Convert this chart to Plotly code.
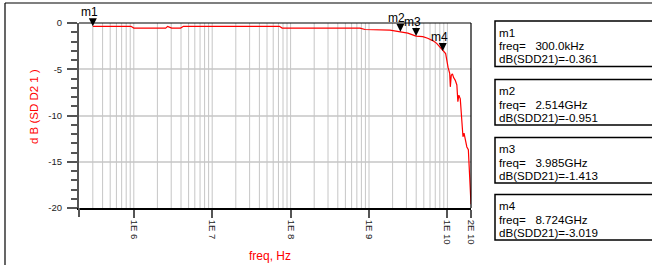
import numpy as np
import plotly.graph_objects as go

# ---------------- data ----------------
freq_hz = [3.0e5, 9.2e5, 1.0e6, 2.55e6, 2.7e6, 3.04e6, 3.95e6, 4.3e6, 7.2e7, 7.8e7,
           7.7e8, 8.9e8, 1.85e9, 2.514e9, 3.13e9, 3.985e9, 4.86e9, 5.6e9, 6.5e9, 7.3e9,
           8.4e9, 8.724e9, 9.5e9, 1.02e10, 1.07e10, 1.09e10, 1.12e10, 1.16e10, 1.20e10, 1.26e10,
           1.32e10, 1.36e10, 1.40e10, 1.46e10, 1.51e10, 1.58e10, 1.63e10, 1.67e10, 1.77e10, 1.85e10,
           1.92e10, 2.0e10]
sdd21_db = [-0.361, -0.36, -0.55, -0.55, -0.36, -0.55, -0.55, -0.36, -0.36, -0.55,
            -0.55, -0.70, -0.78, -0.951, -1.10, -1.413, -1.48, -1.65, -1.90, -2.20,
            -2.80, -3.019, -3.30, -4.80, -5.45, -6.90, -5.65, -5.50, -5.90, -6.20,
            -6.70, -8.50, -7.80, -8.20, -10.5, -12.3, -11.9, -12.5, -13.4, -13.7,
            -16.2, -19.6]

marker_names = ["m1", "m2", "m3", "m4"]
marker_freq = [300.0e3, 2.514e9, 3.985e9, 8.724e9]
marker_db = [-0.361, -0.951, -1.413, -3.019]
marker_freq_text = ["300.0kHz", "2.514GHz", "3.985GHz", "8.724GHz"]

x_tick_vals = [1e6, 1e7, 1e8, 1e9, 1e10, 2e10]
x_tick_text = ["1E 6", "1E 7", "1E 8", "1E 9", "1E 10", "2E 10"]
y_tick_vals = [0, -5, -10, -15, -20]
y_tick_text = ["0", "-5", "-10", "-15", "-20"]
x_min, x_max = 2e5, 2e10
y_min, y_max = -20, 0

# ---------------- layout geometry ----------------
W, H = 652, 265
L, R, T, B = 79, 181, 23, 57
PW = W - L - R
PH = H - T - B
FONT = "Liberation Sans, Arial, sans-serif"


def px(x):
    return (x - L) / PW


def py(y):
    return (H - B - y) / PH


fig = go.Figure()

# vertical log grid
grid_x, grid_y = [], []
for d in range(5, 11):
    for k in range(1, 10):
        v = k * 10.0 ** d
        if x_min < v < x_max:
            grid_x += [v, v, None]
            grid_y += [y_min, y_max, None]
fig.add_trace(go.Scatter(x=grid_x, y=grid_y, mode="lines",
                         line=dict(color="#c6c6c6", width=1),
                         hoverinfo="skip", showlegend=False))

# data line
fig.add_trace(go.Scatter(x=freq_hz, y=sdd21_db, mode="lines",
                         line=dict(color="#ff0000", width=1.2),
                         showlegend=False))

# markers (tip on the data point)
fig.add_trace(go.Scatter(x=marker_freq, y=marker_db, mode="markers",
                         marker=dict(symbol="arrow-down", size=8, color="black",
                                     line=dict(width=0)),
                         showlegend=False, cliponaxis=False))

annotations = []
for name, f, v in zip(marker_names, marker_freq, marker_db):
    annotations.append(dict(x=np.log10(f), y=v, xref="x", yref="y", text=name,
                            showarrow=False, xanchor="center", yanchor="bottom",
                            xshift=-3.5, yshift=5,
                            font=dict(family=FONT, size=12, color="black")))

# axis titles
annotations.append(dict(x=px(270), y=py(256), xref="paper", yref="paper",
                        text="freq, Hz", showarrow=False, xanchor="center", yanchor="middle",
                        font=dict(family=FONT, size=12, color="#ff0000")))
annotations.append(dict(x=px(34), y=py(107), xref="paper", yref="paper",
                        text="d B (SD D2 1 )", textangle=-90, showarrow=False,
                        xanchor="center", yanchor="middle",
                        font=dict(family=FONT, size=11.5, color="#ff0000")))

shapes = []
# plot box top/right
shapes.append(dict(type="line", xref="paper", yref="paper", x0=0, x1=1, y0=1, y1=1,
                   line=dict(color="black", width=1.2)))
shapes.append(dict(type="line", xref="paper", yref="paper", x0=1, x1=1, y0=0, y1=1,
                   line=dict(color="black", width=1.2)))
# left axis extension below plot
shapes.append(dict(type="line", xref="paper", yref="paper", x0=0, x1=0, y0=py(208), y1=py(217),
                   line=dict(color="#555555", width=2)))
# outer frame
shapes.append(dict(type="line", xref="paper", yref="paper", x0=px(5), x1=px(660), y0=py(3), y1=py(3),
                   line=dict(color="black", width=1.2)))
shapes.append(dict(type="line", xref="paper", yref="paper", x0=px(5), x1=px(5), y0=py(3), y1=py(270),
                   line=dict(color="black", width=1.2)))

# marker readout boxes
box_tops = [21.0, 79.5, 137.5, 194.5]
box_h = 45.5
line_gap = 13.3
for i, top in enumerate(box_tops):
    shapes.append(dict(type="rect", xref="paper", yref="paper",
                       x0=px(495), x1=px(670), y0=py(top), y1=py(top + box_h),
                       line=dict(color="black", width=1.5), fillcolor="rgba(0,0,0,0)"))
    lines = [marker_names[i],
             "freq=\u00a0\u00a0\u00a0" + marker_freq_text[i],
             "dB(SDD21)=%.3f" % marker_db[i]]
    for j, txt in enumerate(lines):
        annotations.append(dict(x=px(496.5), y=py(top + 11.3 + line_gap * j), xref="paper", yref="paper",
                                text=txt, showarrow=False, xanchor="left", yanchor="middle",
                                font=dict(family=FONT, size=11.6, color="black")))

fig.update_layout(
    width=W, height=H,
    margin=dict(l=L, r=R, t=T, b=B, pad=0),
    paper_bgcolor="white", plot_bgcolor="white",
    showlegend=False,
    annotations=annotations,
    shapes=shapes,
    xaxis=dict(type="log", range=[np.log10(x_min), np.log10(x_max)],
               tickmode="array", tickvals=x_tick_vals, ticktext=x_tick_text,
               tickangle=90, ticks="outside", ticklen=8, tickwidth=1.5, tickcolor="#555555",
               tickfont=dict(family=FONT, size=9.5, color="#222222"),
               showgrid=False, zeroline=False,
               showline=True, linecolor="black", linewidth=1.5),
    yaxis=dict(range=[y_min, y_max], tickmode="array", tickvals=y_tick_vals, ticktext=y_tick_text,
               ticks="outside", ticklen=10, tickwidth=1.5, tickcolor="#555555",
               ticklabelstandoff=3,
               tickfont=dict(family=FONT, size=9.5, color="#222222"),
               showgrid=True, gridcolor="#d4d4d4", gridwidth=1.5, zeroline=False,
               showline=True, linecolor="#555555", linewidth=2,
               minor=dict(dtick=1, ticks="outside", ticklen=6, tickwidth=1.5,
                          tickcolor="#555555", showgrid=False)),
)

fig.write_html("out.html",
               config={"displayModeBar": False},
               post_script="document.body.style.margin='0px';document.body.style.overflow='hidden';")
